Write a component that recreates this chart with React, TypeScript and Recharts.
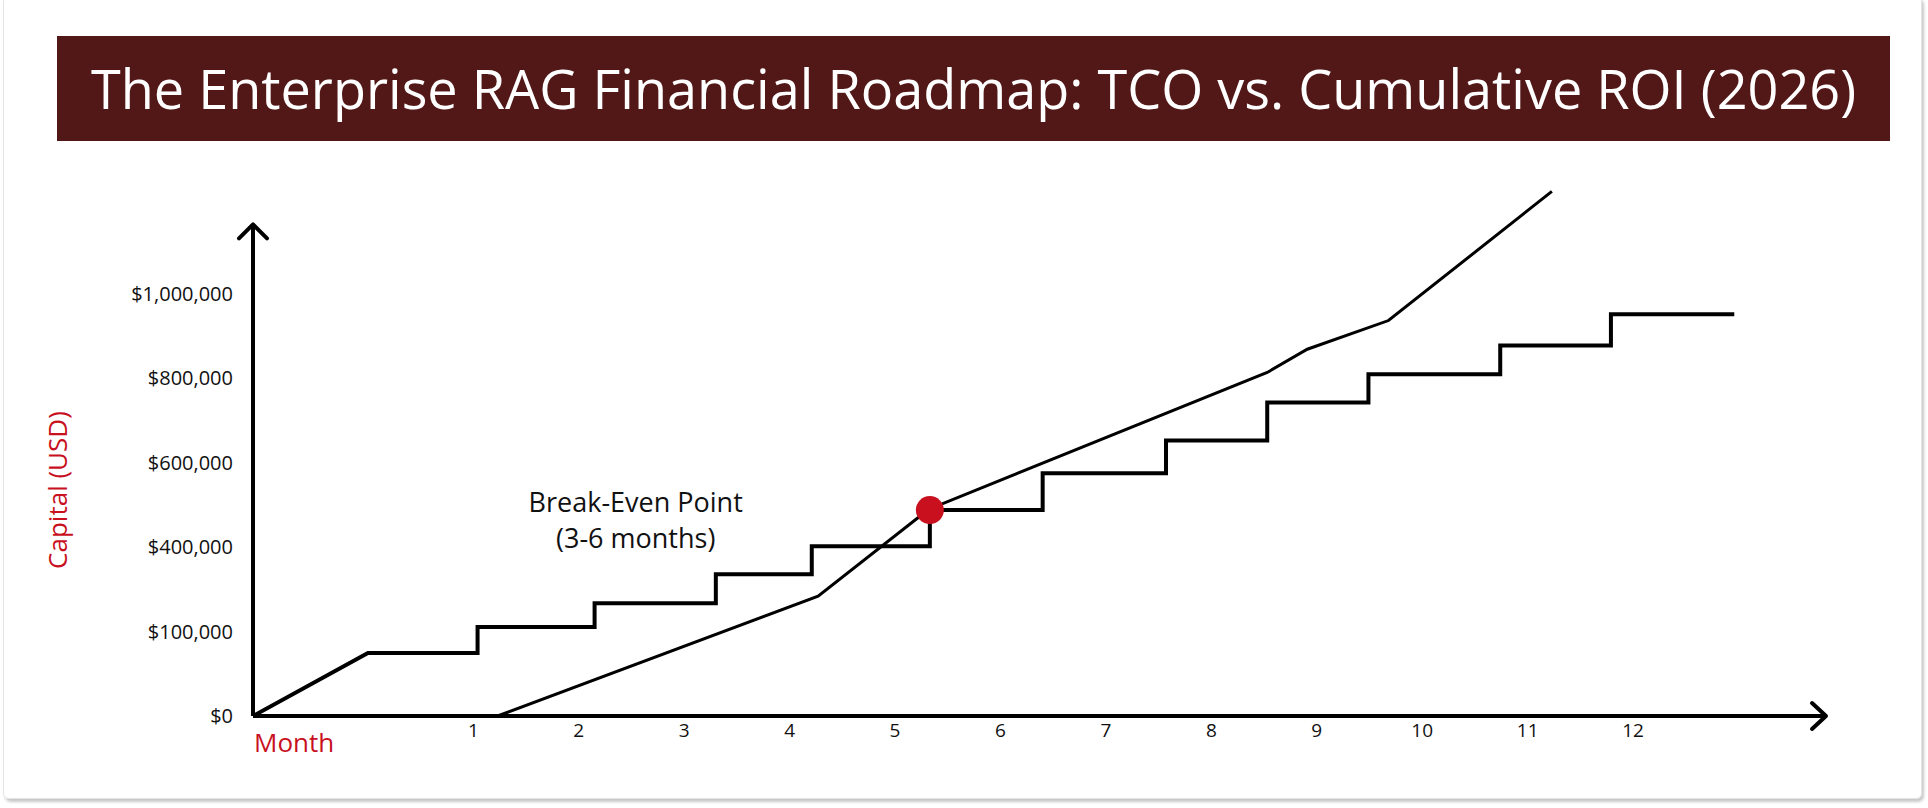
import { LineChart, Line, XAxis, YAxis, ReferenceLine, ReferenceDot } from 'recharts';

// months along the bottom; the drawing starts a little before month 1 and runs past 12
const MONTH_TICKS = [1, 2, 3, 4, 5, 6, 7, 8, 9, 10, 11, 12];
const X_DOMAIN: [number, number] = [-1.09, 13.83];

// the source labels the 200k gridline as "$100,000" -- kept as drawn
const Y_TICKS = [0, 200000, 400000, 600000, 800000, 1000000];
const Y_TICK_LABELS = ['$0', '$100,000', '$400,000', '$600,000', '$800,000', '$1,000,000'];
const Y_DOMAIN: [number, number] = [0, 1270000];
const Y_ARROW_TOP = 1165000;

// total cost of ownership: ramp, then monthly stair steps
const TCO_MONTHS = [-1.09, 0, 1.04, 1.04, 2.15, 2.15, 3.3, 3.3, 4.21, 4.21, 5.33, 5.33, 6.4, 6.4, 7.57, 7.57, 8.53, 8.53, 9.49, 9.49, 10.74, 10.74, 11.79, 11.79, 12.96];
const TCO_VALUES = [0, 149000, 149000, 211000, 211000, 267000, 267000, 336000, 336000, 402000, 402000, 488000, 488000, 575000, 575000, 653000, 653000, 743000, 743000, 810000, 810000, 878000, 878000, 952000, 952000];

// cumulative return
const ROI_MONTHS = [1.23, 4.27, 5.32, 8.53, 8.91, 9.68, 11.23];
const ROI_VALUES = [0, 284000, 490000, 814000, 869000, 937000, 1243000];

const BREAK_EVEN = [{ x: 5.33, y: 488000 }];
const NOTE_MONTH = 2.54;
const NOTE_LINES = ['Break-Even Point', '(3-6 months)'];
const NOTE_VALUES = [507000, 421000];

const tcoData = TCO_MONTHS.map((x, i) => ({ x, y: TCO_VALUES[i] }));
const roiData = ROI_MONTHS.map((x, i) => ({ x, y: ROI_VALUES[i] }));

const RED = '#C8101E';
const FONT = '"Open Sans", "Noto Sans", sans-serif';

function arrow(dir: 'up' | 'right') {
  return (props: any) => {
    const { x1, y1, x2, y2 } = props;
    const head =
      dir === 'up'
        ? `M${x2 - 14},${y2 + 14} L${x2},${y2} L${x2 + 14},${y2 + 14}`
        : `M${x2 - 14},${y2 - 13} L${x2},${y2} L${x2 - 14},${y2 + 13}`;
    return (
      <g>
        <line x1={x1} y1={y1} x2={x2} y2={y2} stroke="#000" strokeWidth={4} />
        <path d={head} fill="none" stroke="#000" strokeWidth={4} strokeLinecap="round" strokeLinejoin="round" />
      </g>
    );
  };
}

export default function App() {
  return (
    <div style={{ position: 'absolute', left: 0, top: 0, width: 1928, height: 808, background: '#fff', fontFamily: FONT, overflow: 'hidden' }}>
      <div
        style={{
          position: 'absolute',
          left: 3,
          top: -4,
          width: 1919,
          height: 803,
          border: '1px solid #e4e4e4',
          borderRadius: 6,
          boxShadow: '2px 3px 3px rgba(0,0,0,0.22)',
          boxSizing: 'border-box',
        }}
      />
      <div
        style={{
          position: 'absolute',
          left: 57,
          top: 36,
          width: 1833,
          height: 105,
          background: '#521717',
          color: '#fff',
          fontSize: 54,
          lineHeight: '105px',
          textAlign: 'center',
          whiteSpace: 'nowrap',
        }}
      >
        The Enterprise RAG Financial Roadmap: TCO vs. Cumulative ROI (2026)
      </div>
      <div
        style={{
          position: 'absolute',
          left: 57 - 150,
          top: 490 - 16,
          width: 300,
          height: 32,
          lineHeight: '32px',
          textAlign: 'center',
          color: RED,
          fontSize: 26,
          transform: 'rotate(-90deg)',
        }}
      >
        Capital (USD)
      </div>
      <div style={{ position: 'absolute', left: 254, top: 726, color: RED, fontSize: 26, lineHeight: '32px' }}>Month</div>

      <div style={{ position: 'absolute', left: 0, top: 0 }}>
        <LineChart width={1928} height={808} margin={{ top: 180, right: 102, bottom: 62, left: 133 }}>
          <XAxis
            type="number"
            dataKey="x"
            domain={X_DOMAIN}
            ticks={MONTH_TICKS}
            allowDataOverflow
            axisLine={false}
            tickLine={false}
            height={30}
            tick={{ fontSize: 19, fill: '#111', fontFamily: FONT }}
          />
          <YAxis
            type="number"
            domain={Y_DOMAIN}
            ticks={Y_TICKS}
            allowDataOverflow
            axisLine={false}
            tickLine={false}
            width={120}
            tickMargin={14}
            tickFormatter={(v: number) => Y_TICK_LABELS[Y_TICKS.indexOf(v)]}
            tick={{ fontSize: 20, fill: '#111', fontFamily: FONT }}
          />
          {NOTE_LINES.map((t, i) => (
            <ReferenceDot
              key={t}
              x={NOTE_MONTH}
              y={NOTE_VALUES[i]}
              r={0}
              fill="none"
              stroke="none"
              label={{ value: t, position: 'center', fill: '#111', fontSize: 27, fontFamily: FONT }}
            />
          ))}
          <Line
            data={BREAK_EVEN}
            dataKey="y"
            stroke="none"
            dot={{ r: 14, fill: RED, stroke: 'none' }}
            activeDot={false}
            isAnimationActive={false}
          />
          <Line
            data={tcoData}
            dataKey="y"
            type="linear"
            stroke="#000"
            strokeWidth={4}
            dot={false}
            activeDot={false}
            isAnimationActive={false}
          />
          <Line
            data={roiData}
            dataKey="y"
            type="linear"
            stroke="#000"
            strokeWidth={3}
            dot={false}
            activeDot={false}
            isAnimationActive={false}
          />
          <ReferenceLine
            segment={[{ x: X_DOMAIN[0], y: 0 }, { x: X_DOMAIN[0], y: Y_ARROW_TOP }]}
            shape={arrow('up')}
          />
          <ReferenceLine
            segment={[{ x: X_DOMAIN[0], y: 0 }, { x: X_DOMAIN[1], y: 0 }]}
            shape={arrow('right')}
          />
        </LineChart>
      </div>
    </div>
  );
}
